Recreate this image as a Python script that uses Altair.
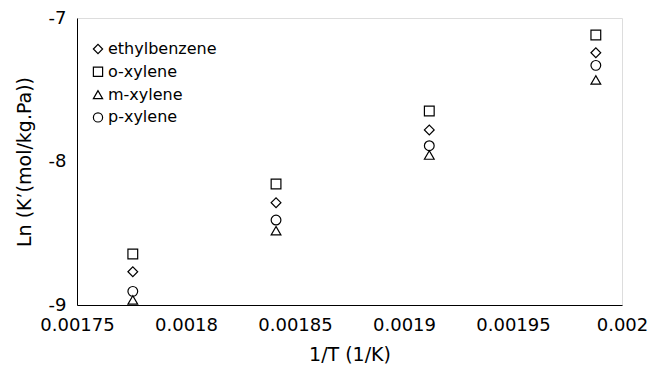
import altair as alt
import pandas as pd

compounds = ["ethylbenzene", "o-xylene", "m-xylene", "p-xylene"]
inv_T = [0.0017756, 0.0018413, 0.0019116, 0.001988]
ln_ethylbenzene = [-8.768, -8.287, -7.780, -7.242]
ln_oxylene = [-8.645, -8.157, -7.648, -7.118]
ln_mxylene = [-8.965, -8.482, -7.955, -7.432]
ln_pxylene = [-8.905, -8.408, -7.890, -7.330]
x_ticks = [0.00175, 0.0018, 0.00185, 0.0019, 0.00195, 0.002]
y_ticks = [-9, -8, -7]

series = {
    "ethylbenzene": ln_ethylbenzene,
    "o-xylene": ln_oxylene,
    "m-xylene": ln_mxylene,
    "p-xylene": ln_pxylene,
}
rows = []
for name in compounds:
    for x, y in zip(inv_T, series[name]):
        rows.append({"compound": name, "invT": x, "lnK": y})
df = pd.DataFrame(rows)

FONT = "DejaVu Sans"

chart = alt.Chart(df).mark_point(filled=False, color="black", strokeWidth=1.2, size=95, opacity=1).encode(
    x=alt.X("invT:Q", title="1/T (1/K)",
            scale=alt.Scale(domain=[0.00175, 0.002], nice=False, zero=False),
            axis=alt.Axis(values=x_ticks, labelExpr="'' + datum.value", grid=False, tickSize=0,
                          labelFontSize=18, titleFontSize=19, labelPadding=11,
                          titlePadding=11, labelFont=FONT, titleFont=FONT,
                          titleFontWeight="normal", labelOverlap=False,
                          labelColor="black", titleColor="black", domainColor="black",
                          labelFlush=False)),
    y=alt.Y("lnK:Q", title="Ln (K’(mol/kg.Pa))",
            scale=alt.Scale(domain=[-9, -7], nice=False, zero=False),
            axis=alt.Axis(values=y_ticks, labelExpr="'' + datum.value", grid=False, tickSize=0,
                          labelFontSize=18, titleFontSize=19, labelPadding=11,
                          titlePadding=14, labelFont=FONT, titleFont=FONT,
                          titleFontWeight="normal", labelOverlap=False,
                          labelColor="black", titleColor="black", domainColor="black",
                          labelFlush=False)),
    shape=alt.Shape("compound:N",
                    scale=alt.Scale(domain=compounds,
                                    range=["diamond", "square", "triangle-up", "circle"]),
                    legend=alt.Legend(title=None, orient="none", legendX=13, legendY=23,
                                      labelFontSize=16, labelFont=FONT, labelColor="black",
                                      symbolStrokeColor="black", symbolFillColor="transparent",
                                      symbolStrokeWidth=1.2, symbolSize=85, labelOffset=2,
                                      rowPadding=6.8, padding=0)),
).properties(
    width=545, height=287,
    autosize=alt.AutoSizeParams(type="none"),
    padding={"left": 77, "top": 18, "right": 26, "bottom": 61},
).configure_view(stroke="black", strokeWidth=1).configure(background="white")

chart.save("out.html", embed_options={"renderer": "svg", "actions": False})
